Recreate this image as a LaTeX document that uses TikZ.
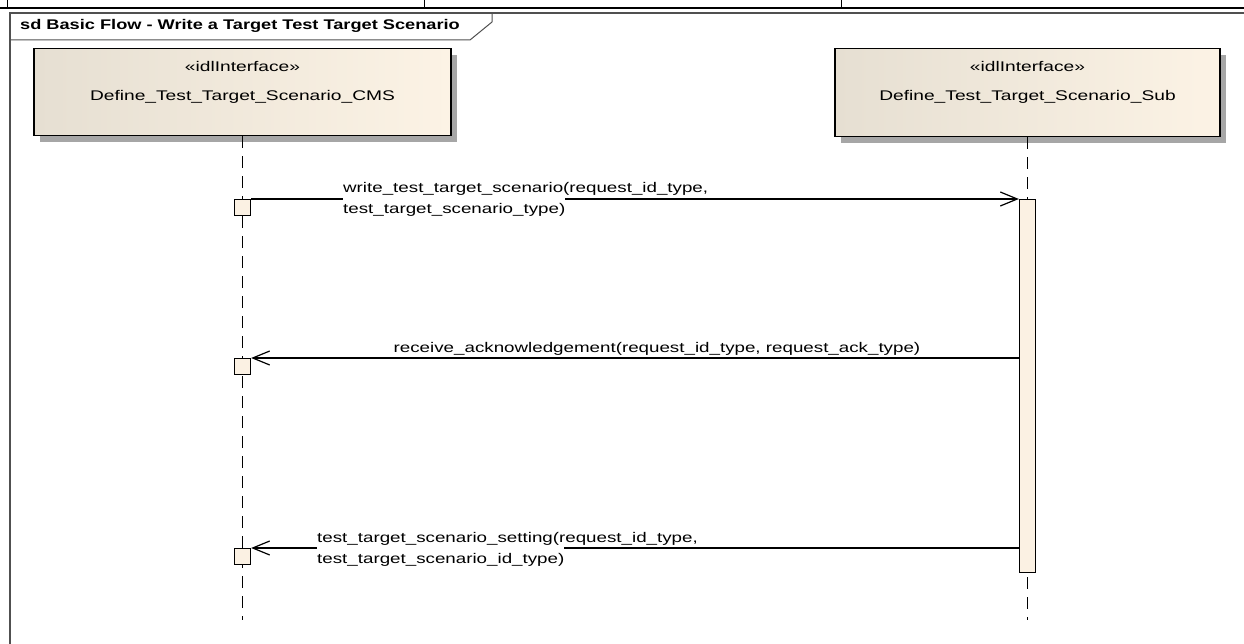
\documentclass[tikz,border=0pt]{standalone}
\usepackage{fontspec}
\setmainfont{Liberation Sans}[FakeStretch=1.34]
\newfontfamily\titlefont{Liberation Sans}[FakeStretch=1.3]
\newfontfamily\headfont{Liberation Sans}[FakeStretch=1.37]
\usetikzlibrary{arrows.meta,shadows}
\definecolor{headL}{RGB}{230,223,210}
\definecolor{headR}{RGB}{252,243,229}
\definecolor{actfill}{RGB}{251,241,227}
\definecolor{shadowgray}{RGB}{166,166,166}
\definecolor{framegray}{RGB}{80,80,80}
\begin{document}
\begin{tikzpicture}[x=1pt,y=-1pt,
  font=\fontsize{14}{17}\selectfont,
  head/.style={draw=black, line width=1.3pt, left color=headL, right color=headR,
    inner sep=0pt, anchor=north,
    drop shadow={shadow xshift=6pt, shadow yshift=-6pt, fill=shadowgray, opacity=1}},
  lifeline/.style={line width=1.4pt, dash pattern=on 12pt off 8pt},
  act/.style={draw=black, line width=1.3pt, fill=actfill, inner sep=0pt, anchor=north, minimum width=16pt},
  msg/.style={line width=1.2pt, -{Straight Barb[length=17pt,width=14pt,line width=1.2pt]}},
  lbl/.style={inner sep=0pt, anchor=base west},
  lblbg/.style={inner xsep=0pt, inner ysep=6pt, fill=white, anchor=base west},
  txt/.style={inner sep=0pt, anchor=base},
  headtxt/.style={inner sep=0pt, anchor=base, font=\fontsize{14}{17}\headfont}]
\useasboundingbox (0,0) rectangle (1244,644);
% top strip (cropped table row)
\draw[line width=1.5pt] (0,8) -- (1244,8);
\draw[line width=1pt] (7,0) -- (7,8) (424,0) -- (424,8) (841,0) -- (841,8);
% frame
\draw[framegray, line width=1.2pt] (10,644) -- (10,13) -- (1244,13);
\draw[framegray, line width=1pt] (10,40) -- (470,40) -- (492,22) -- (492,13);
\node[inner sep=0pt, anchor=base west, font=\fontsize{14}{17}\titlefont\bfseries] (title) at (20,30) {sd Basic Flow - Write a Target Test Target Scenario};
% heads
\node[head, minimum width=417pt, minimum height=87pt] (cmsHead) at (242.5,48) {};
\node[head, minimum width=385pt, minimum height=88pt] (subHead) at (1027.5,48) {};
\node[headtxt] (cmsStereo) at (242.5,72) {«idlInterface»};
\node[headtxt] (cmsName) at (242.5,101) {Define\_Test\_Target\_Scenario\_CMS};
\node[headtxt] (subStereo) at (1027.5,72) {«idlInterface»};
\node[headtxt] (subName) at (1027.5,101) {Define\_Test\_Target\_Scenario\_Sub};
% lifelines
\coordinate (cmsEnd) at (242.5,620);
\coordinate (subEnd) at (1027.5,620);
\draw[lifeline] (cmsHead.south) -- (cmsEnd);
\draw[lifeline] (subHead.south) -- (subEnd);
% activations
\node[act, minimum height=373pt] (subAct) at (1027.5,199) {};
\node[act, minimum height=16pt] (cmsAct1) at (242.5,199) {};
\node[act, minimum height=16pt] (cmsAct2) at (242.5,358) {};
\node[act, minimum height=16pt] (cmsAct3) at (242.5,548) {};
% messages
\draw[msg] (cmsAct1.north east) -- (subAct.north west);
\draw[msg] (subAct.west |- cmsAct2.north) -- (cmsAct2.north east);
\draw[msg] (subAct.west |- cmsAct3.north) -- (cmsAct3.north east);
% labels
\node[lbl] (m1a) at (343,193) {write\_test\_target\_scenario(request\_id\_type,};
\node[lblbg] (m1b) at (343,214) {test\_target\_scenario\_type)};
\node[txt] (m2) at (657,352) {receive\_acknowledgement(request\_id\_type, request\_ack\_type)};
\node[lbl] (m3a) at (317,542) {test\_target\_scenario\_setting(request\_id\_type,};
\node[lblbg] (m3b) at (317,563) {test\_target\_scenario\_id\_type)};
\end{tikzpicture}
\end{document}
